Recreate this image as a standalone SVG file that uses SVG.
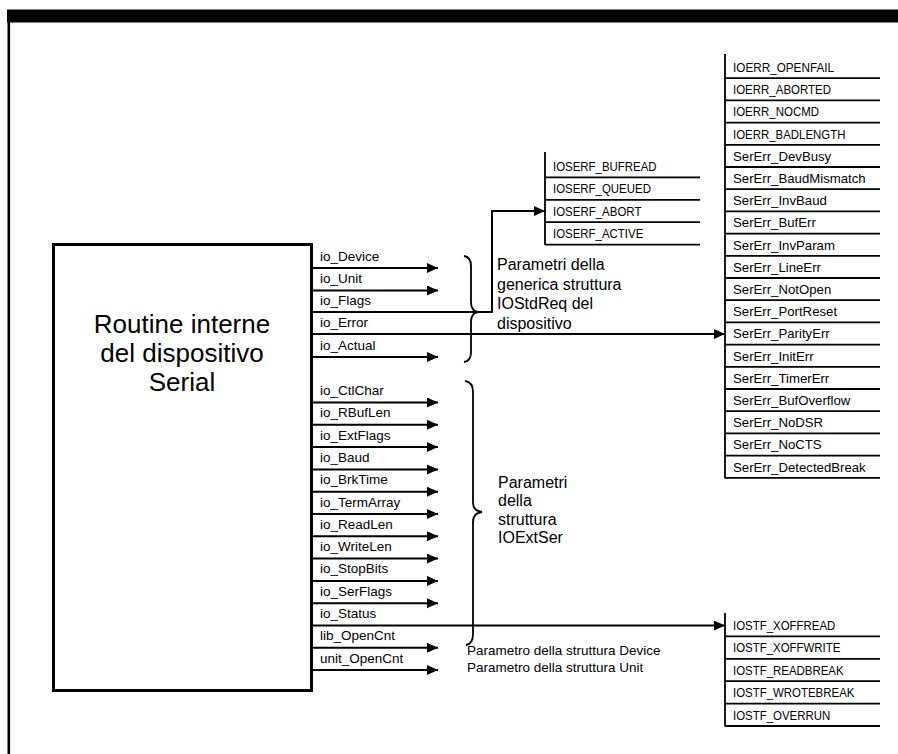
<svg xmlns="http://www.w3.org/2000/svg" width="898" height="754" viewBox="0 0 898 754">
<style>
.t{font-family:"Liberation Sans",Arial,sans-serif;fill:#000}
.lbl{font-size:13.5px}
.el{font-size:13.2px}
.cap{font-size:13px}
.big{font-size:26px}
.mid{font-size:16px}
.sm{font-size:13.5px}
.ln{stroke:#000;stroke-width:2;fill:none}
.tb{stroke:#000;stroke-width:1.8;fill:none}
.br{stroke:#000;stroke-width:1.8;fill:none}
</style>
<defs>
<marker id="ah" markerUnits="userSpaceOnUse" markerWidth="12" markerHeight="11" refX="11" refY="5" orient="auto">
<path d="M0,0 L11,5 L0,10 z" fill="#000"/>
</marker>
</defs>
<rect width="898" height="754" fill="#fff"/>
<g id="frame">
<rect x="7" y="9.5" width="891" height="13" fill="#000"/>
<line x1="8.8" y1="10" x2="8.8" y2="754" stroke="#000" stroke-width="2.6"/>
</g>
<g id="routine">
<rect x="53.5" y="244.5" width="258" height="446" fill="none" stroke="#000" stroke-width="3"/>
<text class="t big" x="182" y="333" text-anchor="middle">Routine interne</text>
<text class="t big" x="182" y="362" text-anchor="middle">del dispositivo</text>
<text class="t big" x="182" y="391" text-anchor="middle">Serial</text>
</g>
<g id="connectors">
<line class="ln" x1="312" y1="268" x2="438" y2="268" marker-end="url(#ah)"/>
<line class="ln" x1="312" y1="290.5" x2="438" y2="290.5" marker-end="url(#ah)"/>
<path class="ln" d="M312,312 H492 V211 H545" marker-end="url(#ah)"/>
<line class="ln" x1="312" y1="334" x2="725" y2="334" marker-end="url(#ah)"/>
<line class="ln" x1="312" y1="357" x2="438" y2="357" marker-end="url(#ah)"/>
<line class="ln" x1="312" y1="402.5" x2="438" y2="402.5" marker-end="url(#ah)"/>
<line class="ln" x1="312" y1="424.8" x2="438" y2="424.8" marker-end="url(#ah)"/>
<line class="ln" x1="312" y1="447.1" x2="438" y2="447.1" marker-end="url(#ah)"/>
<line class="ln" x1="312" y1="469.4" x2="438" y2="469.4" marker-end="url(#ah)"/>
<line class="ln" x1="312" y1="491.7" x2="438" y2="491.7" marker-end="url(#ah)"/>
<line class="ln" x1="312" y1="514" x2="438" y2="514" marker-end="url(#ah)"/>
<line class="ln" x1="312" y1="536.3" x2="438" y2="536.3" marker-end="url(#ah)"/>
<line class="ln" x1="312" y1="558.6" x2="438" y2="558.6" marker-end="url(#ah)"/>
<line class="ln" x1="312" y1="580.9" x2="438" y2="580.9" marker-end="url(#ah)"/>
<line class="ln" x1="312" y1="603.2" x2="438" y2="603.2" marker-end="url(#ah)"/>
<line class="ln" x1="312" y1="625.5" x2="725" y2="625.5" marker-end="url(#ah)"/>
<line class="ln" x1="312" y1="647.8" x2="438" y2="647.8" marker-end="url(#ah)"/>
<line class="ln" x1="312" y1="670.1" x2="438" y2="670.1" marker-end="url(#ah)"/>
</g>
<g id="fields">
<text class="t lbl" x="320" y="260.5">io_Device</text>
<text class="t lbl" x="320" y="283">io_Unit</text>
<text class="t lbl" x="320" y="304.5">io_Flags</text>
<text class="t lbl" x="320" y="326.5">io_Error</text>
<text class="t lbl" x="320" y="349.5">io_Actual</text>
<text class="t lbl" x="320" y="395">io_CtlChar</text>
<text class="t lbl" x="320" y="417.3">io_RBufLen</text>
<text class="t lbl" x="320" y="439.6">io_ExtFlags</text>
<text class="t lbl" x="320" y="461.9">io_Baud</text>
<text class="t lbl" x="320" y="484.2">io_BrkTime</text>
<text class="t lbl" x="320" y="506.5">io_TermArray</text>
<text class="t lbl" x="320" y="528.8">io_ReadLen</text>
<text class="t lbl" x="320" y="551.1">io_WriteLen</text>
<text class="t lbl" x="320" y="573.4">io_StopBits</text>
<text class="t lbl" x="320" y="595.7">io_SerFlags</text>
<text class="t lbl" x="320" y="618">io_Status</text>
<text class="t lbl" x="320" y="640.3">lib_OpenCnt</text>
<text class="t lbl" x="320" y="662.6">unit_OpenCnt</text>
</g>
<g id="brace-iostdreq">
<path class="br" d="M464,256 Q471,257 471,266 V302 Q471,311 478,312 Q471,313 471,322 V352 Q471,361 464,362"/>
<text class="t mid" x="497" y="270">Parametri della</text>
<text class="t mid" x="497" y="289.5">generica struttura</text>
<text class="t mid" x="497" y="309">IOStdReq del</text>
<text class="t mid" x="497" y="328.5">dispositivo</text>
</g>
<g id="brace-ioextser">
<path class="br" d="M465,381 Q473,382 473,392 V502 Q473,511 482,512 Q473,513 473,522 V634 Q473,644 466,645"/>
<text class="t mid" x="498" y="487.5">Parametri</text>
<text class="t mid" x="498" y="506">della</text>
<text class="t mid" x="498" y="524.5">struttura</text>
<text class="t mid" x="498" y="543">IOExtSer</text>
</g>
<g id="notes">
<text class="t sm" x="467" y="655">Parametro della struttura Device</text>
<text class="t sm" x="467" y="672">Parametro della struttura Unit</text>
</g>
<g id="ioserf-table">
<line class="tb" x1="545" y1="152" x2="545" y2="245"/>
<line class="tb" x1="545" y1="177.4" x2="700" y2="177.4"/>
<line class="tb" x1="545" y1="199.8" x2="700" y2="199.8"/>
<line class="tb" x1="545" y1="222.2" x2="700" y2="222.2"/>
<line class="tb" x1="545" y1="244.6" x2="700" y2="244.6"/>
<text class="t cap" x="553" y="171" textLength="103.6" lengthAdjust="spacingAndGlyphs">IOSERF_BUFREAD</text>
<text class="t cap" x="553" y="193.4" textLength="97.9" lengthAdjust="spacingAndGlyphs">IOSERF_QUEUED</text>
<text class="t cap" x="553" y="215.8" textLength="88.4" lengthAdjust="spacingAndGlyphs">IOSERF_ABORT</text>
<text class="t cap" x="553" y="238.2" textLength="90.3" lengthAdjust="spacingAndGlyphs">IOSERF_ACTIVE</text>
</g>
<g id="error-table">
<line class="tb" x1="725" y1="54" x2="725" y2="478.5"/>
<line class="tb" x1="725" y1="78.2" x2="880" y2="78.2"/>
<line class="tb" x1="725" y1="100.4" x2="880" y2="100.4"/>
<line class="tb" x1="725" y1="122.6" x2="880" y2="122.6"/>
<line class="tb" x1="725" y1="144.8" x2="880" y2="144.8"/>
<line class="tb" x1="725" y1="167" x2="880" y2="167"/>
<line class="tb" x1="725" y1="189.2" x2="880" y2="189.2"/>
<line class="tb" x1="725" y1="211.4" x2="880" y2="211.4"/>
<line class="tb" x1="725" y1="233.6" x2="880" y2="233.6"/>
<line class="tb" x1="725" y1="255.8" x2="880" y2="255.8"/>
<line class="tb" x1="725" y1="278" x2="880" y2="278"/>
<line class="tb" x1="725" y1="300.2" x2="880" y2="300.2"/>
<line class="tb" x1="725" y1="322.4" x2="880" y2="322.4"/>
<line class="tb" x1="725" y1="344.6" x2="880" y2="344.6"/>
<line class="tb" x1="725" y1="366.8" x2="880" y2="366.8"/>
<line class="tb" x1="725" y1="389" x2="880" y2="389"/>
<line class="tb" x1="725" y1="411.2" x2="880" y2="411.2"/>
<line class="tb" x1="725" y1="433.4" x2="880" y2="433.4"/>
<line class="tb" x1="725" y1="455.6" x2="880" y2="455.6"/>
<line class="tb" x1="725" y1="477.8" x2="880" y2="477.8"/>
<text class="t cap" x="733" y="72" textLength="101" lengthAdjust="spacingAndGlyphs">IOERR_OPENFAIL</text>
<text class="t cap" x="733" y="94.2" textLength="98" lengthAdjust="spacingAndGlyphs">IOERR_ABORTED</text>
<text class="t cap" x="733" y="116.4" textLength="86" lengthAdjust="spacingAndGlyphs">IOERR_NOCMD</text>
<text class="t cap" x="733" y="138.6" textLength="112.5" lengthAdjust="spacingAndGlyphs">IOERR_BADLENGTH</text>
<text class="t el" x="733" y="160.8">SerErr_DevBusy</text>
<text class="t el" x="733" y="183">SerErr_BaudMismatch</text>
<text class="t el" x="733" y="205.2">SerErr_InvBaud</text>
<text class="t el" x="733" y="227.4">SerErr_BufErr</text>
<text class="t el" x="733" y="249.6">SerErr_InvParam</text>
<text class="t el" x="733" y="271.8">SerErr_LineErr</text>
<text class="t el" x="733" y="294">SerErr_NotOpen</text>
<text class="t el" x="733" y="316.2">SerErr_PortReset</text>
<text class="t el" x="733" y="338.4">SerErr_ParityErr</text>
<text class="t el" x="733" y="360.6">SerErr_InitErr</text>
<text class="t el" x="733" y="382.8">SerErr_TimerErr</text>
<text class="t el" x="733" y="405">SerErr_BufOverflow</text>
<text class="t el" x="733" y="427.2">SerErr_NoDSR</text>
<text class="t el" x="733" y="449.4">SerErr_NoCTS</text>
<text class="t el" x="733" y="471.6">SerErr_DetectedBreak</text>
</g>
<g id="status-table">
<line class="tb" x1="725" y1="613" x2="725" y2="726.5"/>
<line class="tb" x1="725" y1="636.4" x2="880" y2="636.4"/>
<line class="tb" x1="725" y1="658.8" x2="880" y2="658.8"/>
<line class="tb" x1="725" y1="681.2" x2="880" y2="681.2"/>
<line class="tb" x1="725" y1="703.6" x2="880" y2="703.6"/>
<line class="tb" x1="725" y1="726" x2="880" y2="726"/>
<text class="t cap" x="733" y="630" textLength="102.3" lengthAdjust="spacingAndGlyphs">IOSTF_XOFFREAD</text>
<text class="t cap" x="733" y="652.4" textLength="107.4" lengthAdjust="spacingAndGlyphs">IOSTF_XOFFWRITE</text>
<text class="t cap" x="733" y="674.8" textLength="110.6" lengthAdjust="spacingAndGlyphs">IOSTF_READBREAK</text>
<text class="t cap" x="733" y="697.2" textLength="121.4" lengthAdjust="spacingAndGlyphs">IOSTF_WROTEBREAK</text>
<text class="t cap" x="733" y="719.6" textLength="97.3" lengthAdjust="spacingAndGlyphs">IOSTF_OVERRUN</text>
</g>
</svg>
